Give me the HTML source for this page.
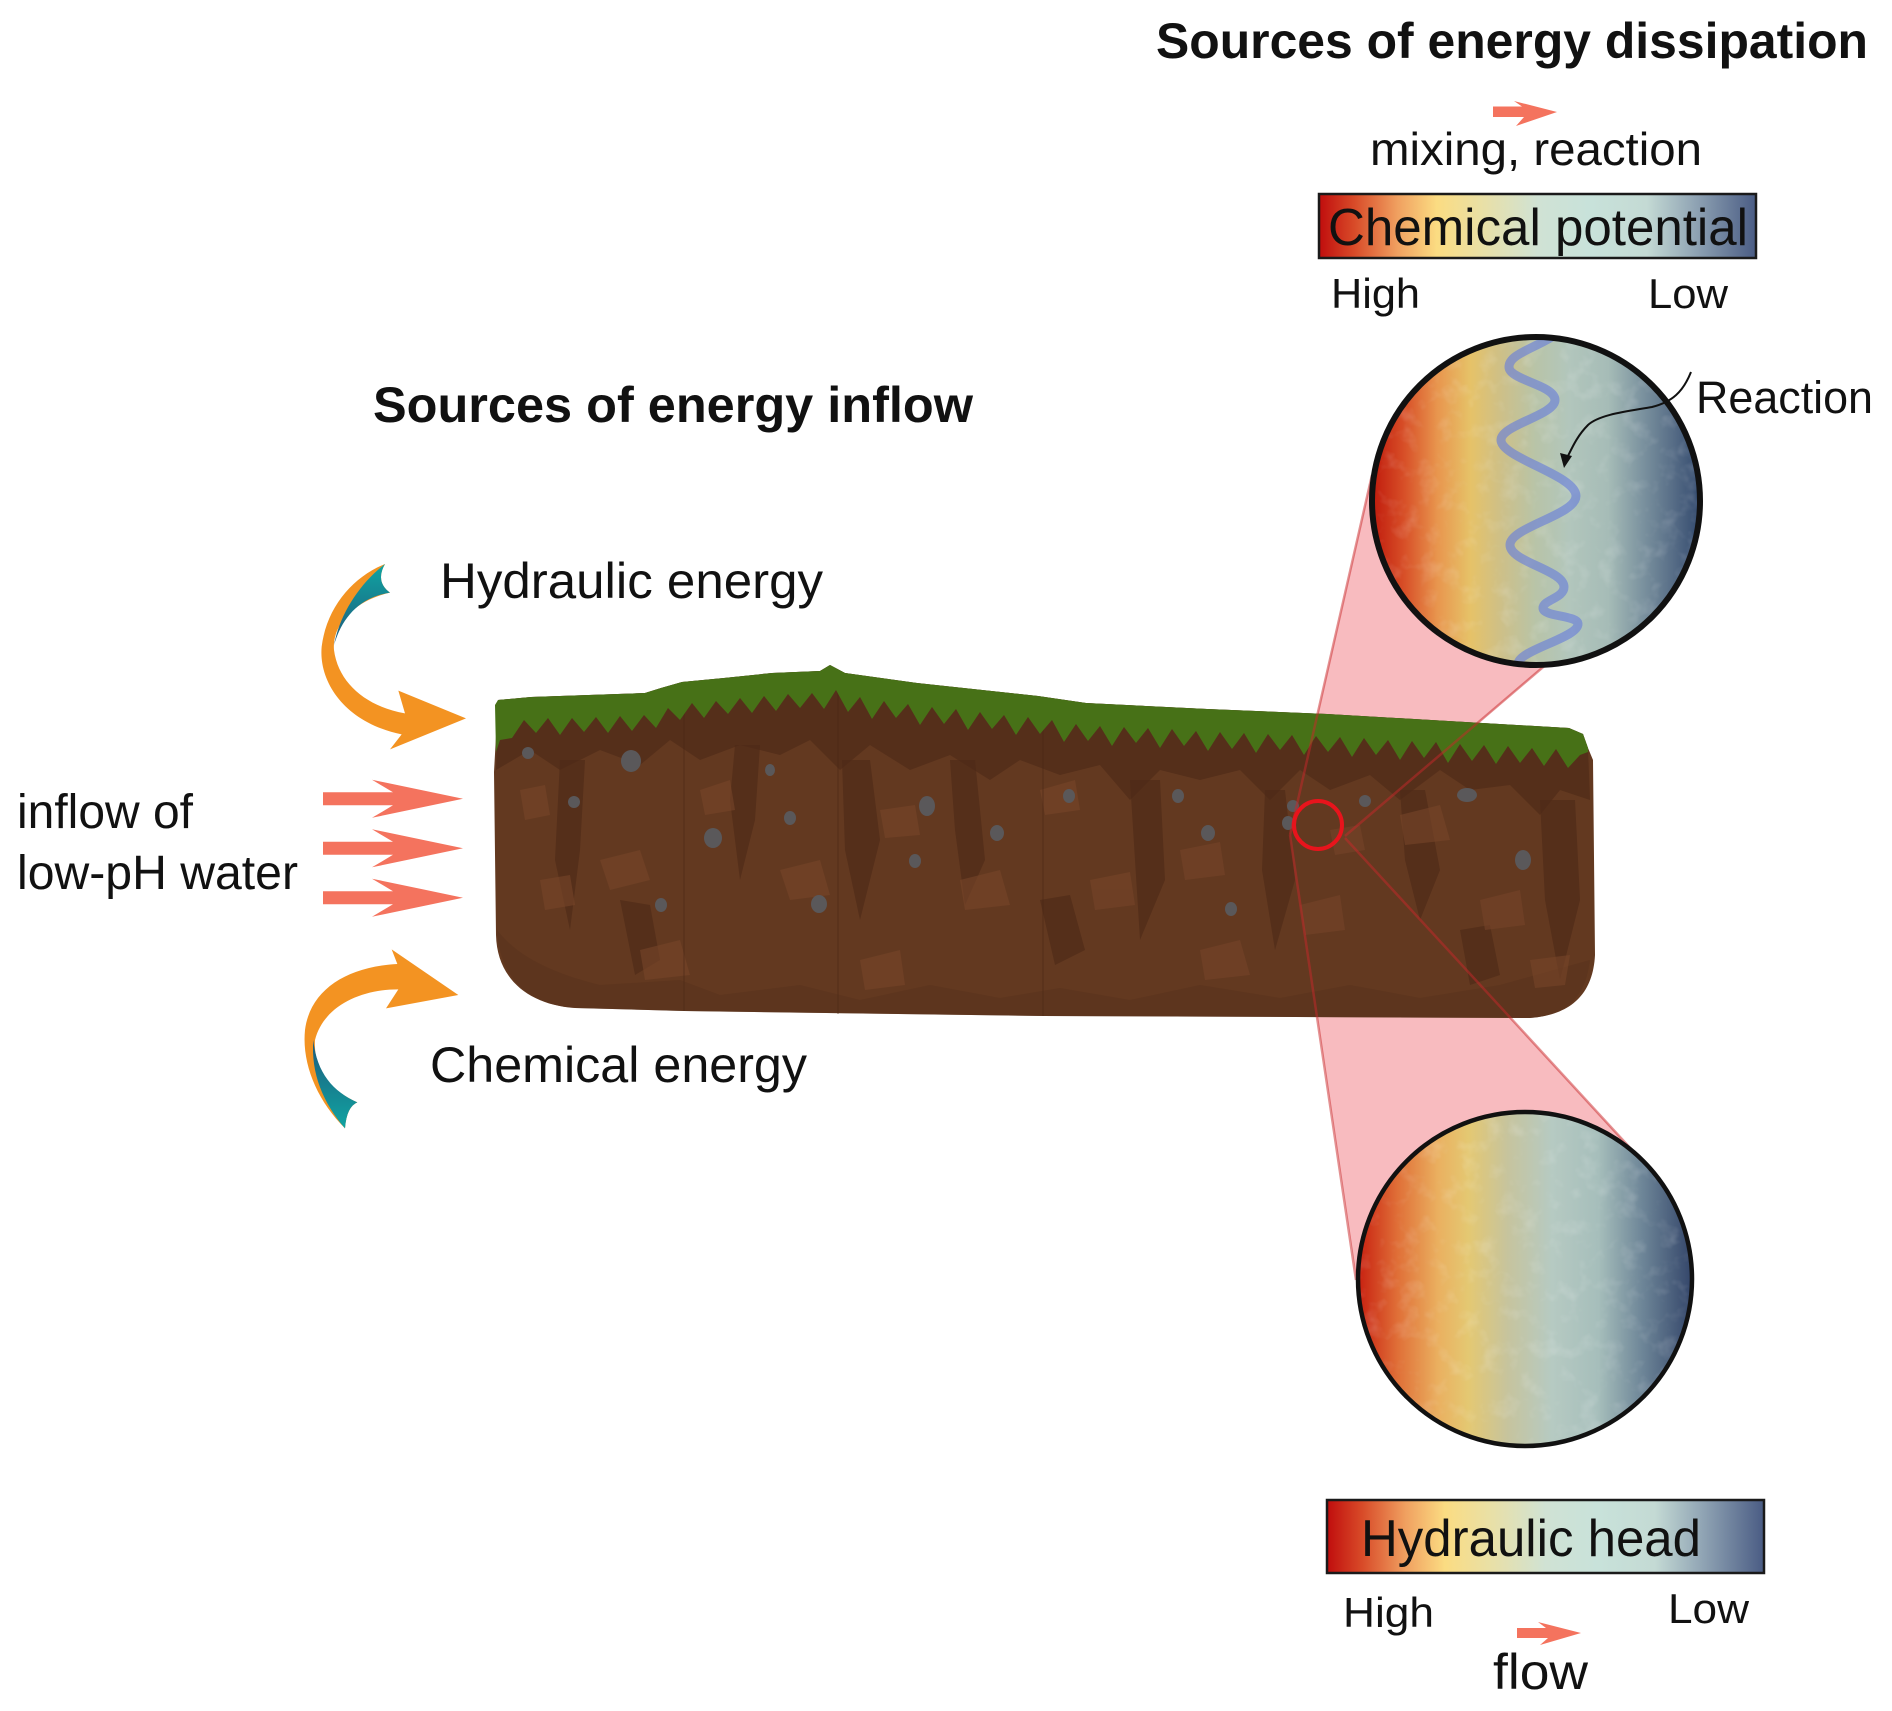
<!DOCTYPE html>
<html><head><meta charset="utf-8"><style>
html,body{margin:0;padding:0;background:#fff;}
svg{display:block;}
text{font-family:"Liberation Sans",Arial,sans-serif;fill:#111;}
</style></head><body>
<svg width="1892" height="1711" viewBox="0 0 1892 1711" xmlns="http://www.w3.org/2000/svg">
<defs>
<linearGradient id="barG" x1="0" y1="0" x2="1" y2="0">
<stop offset="0" stop-color="#c00d0d"/><stop offset="0.08" stop-color="#d84a28"/><stop offset="0.18" stop-color="#f0a060"/><stop offset="0.27" stop-color="#fbdc82"/><stop offset="0.38" stop-color="#e8e0a8"/><stop offset="0.5" stop-color="#d0e2d4"/><stop offset="0.62" stop-color="#c8e2da"/><stop offset="0.75" stop-color="#c4dad4"/><stop offset="0.86" stop-color="#90a4b4"/><stop offset="1" stop-color="#4a5c84"/>
</linearGradient>
<linearGradient id="cirG" x1="0" y1="0" x2="1" y2="0">
<stop offset="0" stop-color="#c01a0c"/><stop offset="0.1" stop-color="#d85028"/><stop offset="0.2" stop-color="#e8964e"/><stop offset="0.3" stop-color="#e6c268"/><stop offset="0.4" stop-color="#ccc08a"/><stop offset="0.5" stop-color="#b8c4a8"/><stop offset="0.6" stop-color="#b2c6bc"/><stop offset="0.72" stop-color="#a6bcb7"/><stop offset="0.82" stop-color="#7d94a0"/><stop offset="0.92" stop-color="#566c86"/><stop offset="1" stop-color="#334a6e"/>
</linearGradient>
<linearGradient id="cirG2" x1="0" y1="0" x2="1" y2="0">
<stop offset="0" stop-color="#c82010"/><stop offset="0.12" stop-color="#e07038"/><stop offset="0.24" stop-color="#eab060"/><stop offset="0.33" stop-color="#e4c872"/><stop offset="0.45" stop-color="#c6c49e"/><stop offset="0.58" stop-color="#b6cac2"/><stop offset="0.72" stop-color="#a6bebb"/><stop offset="0.85" stop-color="#6e8698"/><stop offset="1" stop-color="#34466a"/>
</linearGradient>
<linearGradient id="tealG" x1="0" y1="0" x2="0" y2="1">
<stop offset="0" stop-color="#10a4a2"/><stop offset="1" stop-color="#1d5a7c"/>
</linearGradient>
<linearGradient id="tealG2" x1="0" y1="1" x2="0" y2="0">
<stop offset="0" stop-color="#10a4a2"/><stop offset="1" stop-color="#1d5a7c"/>
</linearGradient>
<clipPath id="c1"><circle cx="1536" cy="501" r="164"/></clipPath>
<clipPath id="c2"><circle cx="1525" cy="1279" r="167"/></clipPath>
<filter id="tex" x="0" y="0" width="1" height="1">
<feTurbulence type="fractalNoise" baseFrequency="0.05" numOctaves="3" seed="7"/>
<feColorMatrix type="matrix" values="0 0 0 0 1  0 0 0 0 1  0 0 0 0 1  3 0 0 0 -1.5"/>
</filter>
</defs>

<!-- Titles / labels top right -->
<text x="1156" y="58" font-size="50" font-weight="bold" textLength="712" lengthAdjust="spacingAndGlyphs">Sources of energy dissipation</text>
<polygon points="1493,106.5 1522,106.5 1514,101 1557,112 1516,126 1524,117 1493,117" fill="#f4735e"/>
<text x="1370" y="165" font-size="46" textLength="332" lengthAdjust="spacingAndGlyphs">mixing, reaction</text>
<rect x="1319" y="194" width="437" height="64" fill="url(#barG)" stroke="#1a1a1a" stroke-width="2.5"/>
<text x="1328" y="245" font-size="52" textLength="420" lengthAdjust="spacingAndGlyphs">Chemical potential</text>
<text x="1331" y="308" font-size="42" textLength="89" lengthAdjust="spacingAndGlyphs">High</text>
<text x="1648" y="308" font-size="42" textLength="80" lengthAdjust="spacingAndGlyphs">Low</text>

<!-- pink cones -->
<polygon points="1290,835 1372,475 1500,420 1569,645 1345,838" fill="#f8bbbf"/>
<polygon points="1290,835 1358,1290 1525,1279 1632,1150 1345,838" fill="#f8bbbf"/>

<!-- Soil -->
<path d="M498,700 L531,697 L645,693 L661,688 L682,682 L724,678 L772,673 L820,671 L830,665 L845,673 L917,683 L1038,696 L1086,703 L1207,709 L1327,714 L1448,721 L1569,728 L1583,734 L1588,748 L1593,760 L1595,955 C1593,995 1570,1015 1530,1018 L1044,1016 L684,1011 L575,1008 C530,1005 497,980 496,935 L494,772 Z" fill="#633920"/>
<path d="M497,930 C520,960 560,975 600,985 L680,980 L720,995 L800,985 L860,1000 L930,985 L1000,998 L1060,988 L1130,1000 L1200,985 L1280,998 L1350,985 L1420,998 L1500,985 L1590,960 C1585,1000 1565,1015 1530,1018 L1044,1016 L684,1011 L575,1008 C530,1005 500,980 497,930 Z" fill="#57311c" opacity="0.5"/>
<path d="M498,700 L531,697 L645,693 L661,688 L682,682 L724,678 L772,673 L820,671 L830,665 L845,673 L917,683 L1038,696 L1086,703 L1207,709 L1327,714 L1448,721 L1569,728 L1583,734 L1588,748 L1590,800 L1560,790 L1540,815 L1510,785 L1470,790 L1440,770 L1400,800 L1370,775 L1330,790 L1300,770 L1270,800 L1240,770 L1200,780 L1160,770 L1130,800 L1100,765 L1060,775 L1020,760 L990,780 L950,755 L910,770 L870,745 L840,770 L810,740 L780,755 L740,745 L700,760 L670,740 L640,765 L600,750 L560,770 L530,750 L496,770 Z" fill="#4e2a17" opacity="0.65"/>
<g fill="#4e2a17" opacity="0.65">
<polygon points="560,760 585,760 580,850 570,930 555,860"/>
<polygon points="735,745 760,745 755,820 740,880 730,800"/>
<polygon points="842,760 870,760 880,840 860,920 845,850"/>
<polygon points="950,760 975,760 985,860 965,905 955,830"/>
<polygon points="1130,780 1160,780 1165,880 1140,940 1135,860"/>
<polygon points="1265,790 1285,790 1295,880 1275,950 1262,870"/>
<polygon points="1400,790 1425,790 1440,870 1420,920 1405,860"/>
<polygon points="1540,800 1575,800 1580,900 1560,980 1545,900"/>
<polygon points="620,900 650,905 660,960 635,975"/>
<polygon points="1040,900 1070,895 1085,950 1055,965"/>
<polygon points="1460,930 1490,925 1500,975 1470,985"/>
</g>
<g fill="#774529" opacity="0.6">
<polygon points="520,790 545,785 550,815 525,820"/>
<polygon points="600,860 640,850 650,880 610,890"/>
<polygon points="700,790 730,780 735,810 705,815"/>
<polygon points="780,870 820,860 830,895 790,900"/>
<polygon points="880,810 915,805 920,835 885,838"/>
<polygon points="960,880 1000,870 1010,905 965,910"/>
<polygon points="1040,790 1075,780 1080,810 1045,815"/>
<polygon points="1090,880 1130,872 1135,905 1095,910"/>
<polygon points="1180,850 1220,842 1225,875 1185,880"/>
<polygon points="1300,905 1340,895 1345,930 1305,935"/>
<polygon points="1400,815 1440,805 1450,840 1405,845"/>
<polygon points="1480,900 1520,890 1525,925 1485,930"/>
<polygon points="1530,960 1570,955 1565,985 1535,988"/>
<polygon points="640,950 680,940 690,975 645,980"/>
<polygon points="860,960 900,950 905,985 865,990"/>
<polygon points="1200,950 1240,940 1250,975 1205,980"/>
<polygon points="540,880 570,875 575,905 545,910"/>
<polygon points="1330,830 1360,825 1365,850 1335,855"/>
</g>
<g stroke="#4a2816" stroke-width="2" opacity="0.3">
<line x1="684" y1="690" x2="684" y2="1011"/>
<line x1="838" y1="680" x2="838" y2="1014"/>
<line x1="1043" y1="700" x2="1043" y2="1016"/>
</g>
<path d="M495,705 L498,700 L531,697 L645,693 L661,688 L682,682 L724,678 L772,673 L820,671 L830,665 L845,673 L917,683 L1038,696 L1086,703 L1207,709 L1327,714 L1448,721 L1569,728 L1583,734 L1588,748 L1588,752 L1580,755 L1568,768 L1556,749 L1544,766 L1532,748 L1520,763 L1508,746 L1496,764 L1484,745 L1472,761 L1460,744 L1448,763 L1436,742 L1424,758 L1412,741 L1400,760 L1388,740 L1376,755 L1364,738 L1352,757 L1340,737 L1328,752 L1316,736 L1304,755 L1292,735 L1280,750 L1268,734 L1256,753 L1244,733 L1232,749 L1220,732 L1208,751 L1196,731 L1184,746 L1172,729 L1160,748 L1148,728 L1136,743 L1124,727 L1112,746 L1100,726 L1088,741 L1076,724 L1064,742 L1052,720 L1040,734 L1028,717 L1016,735 L1004,715 L992,729 L980,712 L968,730 L956,709 L944,724 L932,707 L920,725 L908,704 L896,718 L884,701 L872,719 L860,697 L848,712 L836,690 L824,709 L812,693 L800,708 L788,694 L776,711 L764,696 L752,713 L740,698 L728,714 L716,701 L704,718 L692,703 L680,720 L668,708 L656,728 L644,715 L632,731 L620,716 L608,733 L596,717 L584,732 L572,718 L560,735 L548,718 L536,733 L524,720 L512,738 L500,740 L496,752 Z" fill="#477117"/>
<g fill="#5a585a">
<ellipse cx="528" cy="753" rx="6" ry="6"/>
<ellipse cx="631" cy="761" rx="10" ry="11"/>
<ellipse cx="574" cy="802" rx="6" ry="6"/>
<ellipse cx="713" cy="838" rx="9" ry="10"/>
<ellipse cx="790" cy="818" rx="6" ry="7"/>
<ellipse cx="819" cy="904" rx="8" ry="9"/>
<ellipse cx="927" cy="806" rx="8" ry="10"/>
<ellipse cx="915" cy="861" rx="6" ry="7"/>
<ellipse cx="997" cy="833" rx="7" ry="8"/>
<ellipse cx="1069" cy="796" rx="6" ry="7"/>
<ellipse cx="1178" cy="796" rx="6" ry="7"/>
<ellipse cx="1208" cy="833" rx="7" ry="8"/>
<ellipse cx="1231" cy="909" rx="6" ry="7"/>
<ellipse cx="1293" cy="806" rx="6" ry="6"/>
<ellipse cx="1288" cy="823" rx="6" ry="7"/>
<ellipse cx="1365" cy="801" rx="6" ry="6"/>
<ellipse cx="1467" cy="795" rx="10" ry="7"/>
<ellipse cx="1523" cy="860" rx="8" ry="10"/>
<ellipse cx="661" cy="905" rx="6" ry="7"/>
<ellipse cx="770" cy="770" rx="5" ry="6"/>
</g>
<g stroke="#c8282a" stroke-width="2.5" opacity="0.5" fill="none">
<line x1="1290" y1="835" x2="1372" y2="475"/>
<line x1="1345" y1="836" x2="1569" y2="645"/>
<line x1="1290" y1="835" x2="1356" y2="1280"/>
<line x1="1345" y1="838" x2="1632" y2="1150"/>
</g>
<circle cx="1318" cy="825" r="24" fill="none" stroke="#e8141c" stroke-width="4"/>

<!-- Top circle -->
<circle cx="1536" cy="501" r="164" fill="url(#cirG)"/>
<rect x="1372" y="337" width="328" height="328" filter="url(#tex)" clip-path="url(#c1)" opacity="0.14"/>
<path d="M1551.7,337 C1530,350 1509,355 1509,367 C1509,380 1555,385 1555,400 C1555,415 1501,425 1501,440 C1501,458 1576,475 1576,496 C1576,515 1510,527 1510,545 C1510,562 1564,570 1564,587 C1564,598 1543,600 1543,608 C1543,617 1578,615 1578,624 C1578,638 1518,650 1518,664" fill="none" stroke="#6a7fd8" stroke-width="9" stroke-linecap="round" opacity="0.65" clip-path="url(#c1)"/>
<circle cx="1536" cy="501" r="164" fill="none" stroke="#111" stroke-width="6"/>
<path d="M1691,372 C1683,392 1672,402 1652,407 C1630,411 1600,414 1588,425 C1577,436 1572,448 1567,458" fill="none" stroke="#111" stroke-width="2"/>
<polygon points="1564,468 1560,453 1572,456" fill="#111"/>
<text x="1696" y="413" font-size="45" textLength="177" lengthAdjust="spacingAndGlyphs">Reaction</text>

<!-- Bottom circle -->
<circle cx="1525" cy="1279" r="167" fill="url(#cirG2)"/>
<rect x="1358" y="1112" width="334" height="334" filter="url(#tex)" clip-path="url(#c2)" opacity="0.14"/>
<circle cx="1525" cy="1279" r="167" fill="none" stroke="#111" stroke-width="4.5"/>

<!-- Bottom bar -->
<rect x="1327" y="1500" width="437" height="73" fill="url(#barG)" stroke="#1a1a1a" stroke-width="2.5"/>
<text x="1361" y="1556" font-size="52" textLength="340" lengthAdjust="spacingAndGlyphs">Hydraulic head</text>
<text x="1343" y="1627" font-size="42" textLength="91" lengthAdjust="spacingAndGlyphs">High</text>
<text x="1668" y="1623" font-size="42" textLength="81" lengthAdjust="spacingAndGlyphs">Low</text>
<polygon points="1517,1628 1546,1628 1538,1622 1581,1633 1540,1645 1548,1638 1517,1638" fill="#f4735e"/>
<text x="1493" y="1689" font-size="50" textLength="95" lengthAdjust="spacingAndGlyphs">flow</text>

<!-- Left side -->
<text x="373" y="422" font-size="50" font-weight="bold" textLength="600" lengthAdjust="spacingAndGlyphs">Sources of energy inflow</text>
<text x="440" y="598" font-size="50" textLength="383" lengthAdjust="spacingAndGlyphs">Hydraulic energy</text>
<text x="430" y="1082" font-size="50" textLength="377" lengthAdjust="spacingAndGlyphs">Chemical energy</text>
<text x="17" y="828" font-size="48" textLength="176" lengthAdjust="spacingAndGlyphs">inflow of</text>
<text x="17" y="889" font-size="48" textLength="281" lengthAdjust="spacingAndGlyphs">low-pH water</text>

<g fill="#f4735e">
<polygon points="323,792.3 393,792.3 372,779.8 463,798.8 372,817.8 393,805.3 323,805.3"/>
<polygon points="323,841.8 393,841.8 372,829.3 463,848.3 372,867.3 393,854.8 323,854.8"/>
<polygon points="323,891.2 393,891.2 372,878.7 463,897.7 372,916.7 393,904.2 323,904.2"/>
</g>

<g transform="translate(290,550) scale(0.33333)">
<path d="M285,42 C190,80 110,170 95,290 C85,400 170,520 335,553 L300,598 L528,505 L325,422 L345,490 C230,470 145,400 132,300 C125,220 200,150 300,128 Q255,95 285,42 Z" fill="#f39322"/>
<path d="M285,42 Q255,95 300,128 C220,140 160,190 132,285 C150,190 210,100 285,42 Z" fill="url(#tealG)"/>
</g>
<g transform="translate(280,940) scale(0.33333)">
<path d="M195,565 C110,480 65,370 75,270 C90,150 200,80 352,72 L335,28 L535,165 L318,205 L355,148 C240,148 130,200 105,300 C100,390 150,450 232,487 Q200,500 195,565 Z" fill="#f39322"/>
<path d="M195,565 Q200,500 232,487 C160,455 110,400 100,300 C92,400 130,490 195,565 Z" fill="url(#tealG2)"/>
</g>
</svg>
</body></html>
